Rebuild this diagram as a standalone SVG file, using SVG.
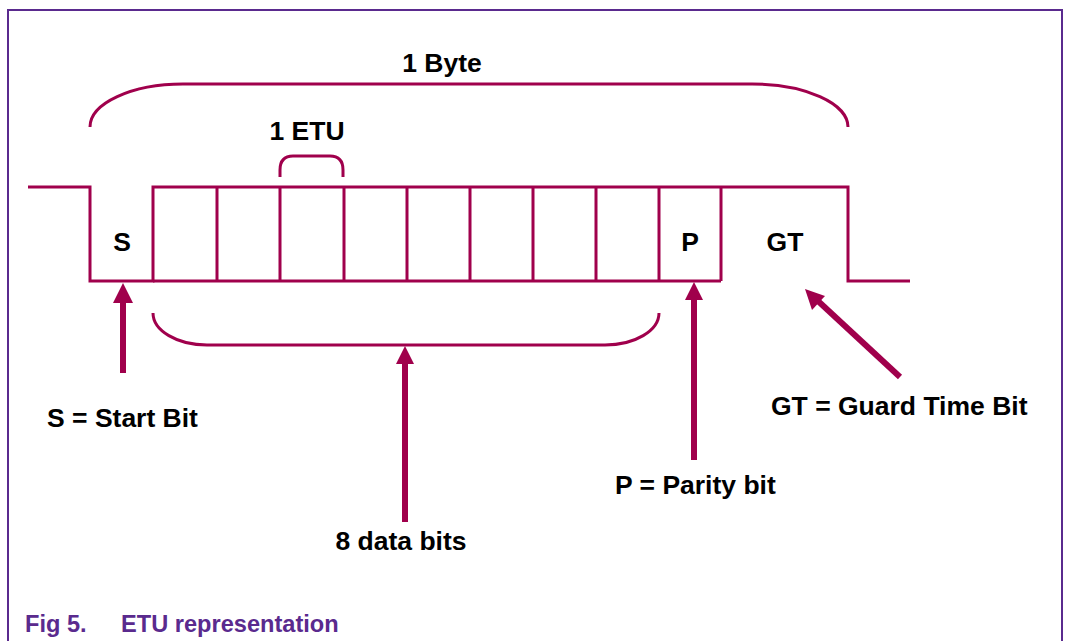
<svg xmlns="http://www.w3.org/2000/svg" width="1066" height="641" viewBox="0 0 1066 641">
<defs>
<style>
.ln{fill:none;stroke:#A0004C;stroke-width:3;stroke-linejoin:miter}
.ar{fill:none;stroke:#A0004C;stroke-width:6}
.hd{fill:#A0004C}
.t{font-family:"Liberation Sans",Arial,sans-serif;font-weight:bold;font-size:26.5px;fill:#000}
.cap{font-family:"Liberation Sans",Arial,sans-serif;font-weight:bold;font-size:23.6px;fill:#5A2A8E}
</style>
</defs>
<rect width="1066" height="641" fill="#fff"/>
<path d="M8,641 L8,10 L1062,10 L1062,641" fill="none" stroke="#5A2A8E" stroke-width="2"/>
<g id="signal">
<path class="ln" d="M28,187 L90,187 L90,281 L153,281 L153,187 L848,187 L848,281 L910,281"/>
<path class="ln" d="M153,281 L721,281"/>
<path class="ln" d="M217,187 V281 M280,187 V281 M344,187 V281 M407,187 V281 M470,187 V281 M533,187 V281 M596,187 V281 M659,187 V281 M721,187 V281"/>
</g>
<g id="cell-s"><text class="t" x="122" y="251" text-anchor="middle">S</text></g>
<g id="cell-p"><text class="t" x="690" y="251" text-anchor="middle">P</text></g>
<g id="cell-gt"><text class="t" x="785" y="251" text-anchor="middle">GT</text></g>
<g id="byte-brace">
<path class="ln" d="M90,127 A93,43 0 0 1 183,84 L752,84 A96,43 0 0 1 848,127"/>
<text class="t" x="442" y="72" text-anchor="middle">1 Byte</text>
</g>
<g id="etu-brace">
<path class="ln" d="M280,177 L280,170 Q280,156 293,156 L330,156 Q343,156 343,170 L343,177"/>
<text class="t" x="307" y="140" text-anchor="middle">1 ETU</text>
</g>
<g id="data-brace">
<path class="ln" d="M153,313 A54,32 0 0 0 207,345 L605,345 A54,32 0 0 0 659,313"/>
</g>
<g id="connectors">
<line class="ar" x1="123" y1="373" x2="123" y2="300"/>
<polygon class="hd" points="123,283 113,303 133,303"/>
<line class="ar" x1="405" y1="522" x2="405" y2="360"/>
<polygon class="hd" points="405,346 396,364 414,364"/>
<line class="ar" x1="694" y1="460" x2="694" y2="296"/>
<polygon class="hd" points="694,282 685,300 703,300"/>
<line class="ar" x1="900" y1="377" x2="818" y2="301"/>
<polygon class="hd" points="805,289 825,296 812,310"/>
</g>
<g id="label-s"><text class="t" x="47" y="427">S = Start Bit</text></g>
<g id="label-data"><text class="t" x="401" y="550" text-anchor="middle">8 data bits</text></g>
<g id="label-p"><text class="t" x="615" y="494">P = Parity bit</text></g>
<g id="label-gt"><text class="t" x="771" y="415">GT = Guard Time Bit</text></g>
<g id="caption">
<text class="cap" x="25" y="632">Fig 5.</text>
<text class="cap" x="121" y="632">ETU representation</text>
</g>
</svg>
